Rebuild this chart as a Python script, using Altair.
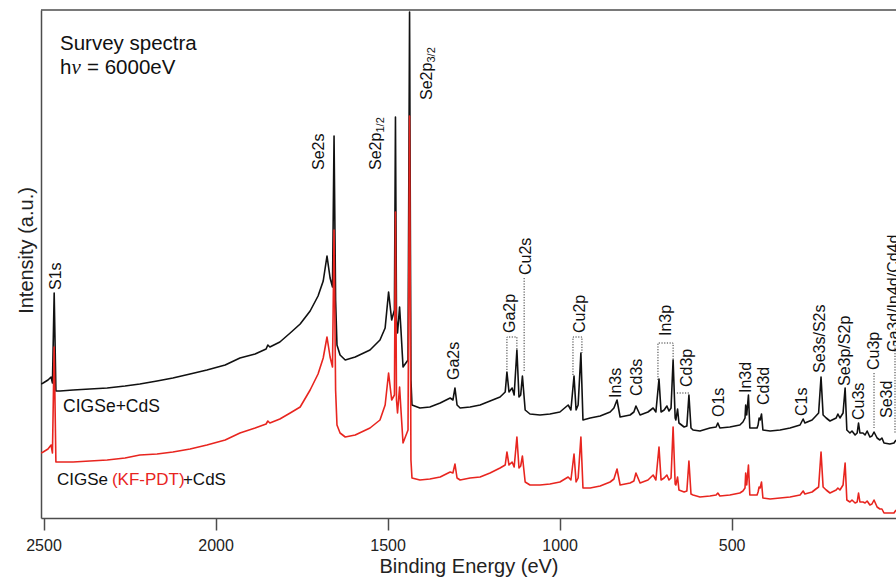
import altair as alt
import pandas as pd

# Binding energy (eV) sample points and intensities (a.u.)
be = [2507, 2501, 2487, 2478, 2474, 2469, 2464, 2452, 2414, 2365,
      2315, 2263, 2220, 2170, 2124, 2074, 2025, 1972, 1929, 1885,
      1853, 1848, 1842, 1813, 1783, 1754, 1725, 1702, 1687, 1676,
      1667, 1660, 1655.5, 1651, 1647, 1638, 1623, 1594, 1551, 1522,
      1507, 1497, 1488, 1480, 1477, 1474, 1471, 1465, 1461, 1455,
      1440.5, 1436, 1432, 1429, 1406, 1377, 1347, 1318, 1310, 1304,
      1298, 1289, 1260, 1231, 1202, 1173, 1158, 1153, 1147, 1138,
      1132, 1124, 1118, 1113, 1108, 1100, 1086, 1057, 1028, 999,
      975, 967, 958, 952, 946, 938, 932, 911, 882, 853,
      842, 833, 824, 795, 784, 778, 766, 743, 728, 720,
      711, 705, 696, 688, 682, 676, 670, 664, 662, 657,
      653, 638, 630, 624, 618, 612, 592, 563, 545, 540,
      534, 505, 476, 467, 461, 459, 456, 451, 447, 426,
      423, 420, 417, 413, 409, 388, 359, 330, 301, 292,
      287, 266, 255, 247, 240, 234, 225, 214, 196, 191,
      185, 176, 170, 165, 156, 150, 141, 135, 131, 127,
      118, 112, 106, 98, 92, 86, 77, 69, 63, 57,
      40, 28, 22]

cigse_cds = [134, 135, 138, 141, 135, 225, 127, 127, 128, 129,
             130, 132, 134, 137, 140, 144, 148, 153, 160, 164,
             169, 173, 171, 176, 185, 194, 207, 222, 237, 262,
             240, 231, 382, 218, 173, 163, 158, 161, 168, 178,
             190, 226, 198, 208, 401, 198, 185, 211, 188, 151,
             158, 506, 138, 113, 110, 111, 115, 120, 118, 130,
             113, 110, 111, 113, 117, 121, 126, 146, 126, 130,
             123, 168, 121, 123, 142, 108, 104, 103, 104, 106,
             113, 108, 142, 108, 113, 165, 98, 100, 102, 106,
             110, 118, 101, 103, 106, 112, 103, 106, 110, 106,
             139, 106, 108, 112, 107, 110, 158, 100, 98, 109,
             95, 91, 92, 123, 90, 88, 87, 90, 91, 95,
             90, 91, 93, 96, 100, 113, 103, 123, 90, 90,
             93, 100, 98, 104, 88, 87, 88, 90, 93, 99,
             95, 98, 102, 105, 141, 103, 100, 97, 100, 104,
             100, 105, 130, 88, 85, 87, 83, 85, 95, 85,
             85, 83, 87, 81, 82, 86, 80, 78, 80, 75,
             74, 75, 78]

cigse_kf_cds = [65, 66, 69, 73, 65, 171, 56, 56, 56, 57,
                58, 60, 63, 64, 66, 69, 73, 78, 85, 90,
                94, 97, 95, 99, 105, 111, 128, 144, 160, 181,
                161, 151, 288, 128, 93, 85, 81, 83, 90, 98,
                113, 145, 118, 123, 306, 118, 105, 131, 108, 75,
                88, 402, 58, 40, 38, 39, 41, 46, 45, 54,
                40, 38, 40, 41, 45, 50, 53, 66, 53, 56,
                51, 81, 50, 52, 62, 36, 33, 33, 34, 36,
                41, 38, 64, 36, 40, 81, 30, 30, 32, 36,
                39, 49, 33, 35, 37, 45, 35, 38, 43, 38,
                71, 38, 40, 43, 38, 40, 91, 34, 33, 41,
                28, 26, 27, 57, 24, 23, 21, 22, 23, 25,
                22, 23, 25, 27, 30, 45, 33, 53, 23, 23,
                26, 31, 30, 36, 20, 19, 20, 21, 23, 27,
                24, 26, 29, 31, 66, 31, 28, 25, 28, 30,
                28, 33, 55, 18, 16, 18, 15, 16, 25, 16,
                16, 15, 17, 13, 14, 18, 11, 9, 9, 5,
                5, 5, 8]

assert len(be) == len(cigse_cds) == len(cigse_kf_cds)

# peak labels (vertical text): label, binding energy, intensity of text start
peak_labels = ["S1s", "Se2s", "Se2p", "Se2p", "Ga2s", "Ga2p", "Cu2s", "Cu2p",
               "In3s", "Cd3s", "In3p", "Cd3p", "O1s", "In3d", "Cd3d", "C1s",
               "Se3s/S2s", "Se3p/S2p", "Cu3s", "Cu3p", "Se3d", "Ga3d/In4d/Cd4d"]
peak_label_be = [2465, 1700, 1533, 1385, 1308, 1144, 1097, 940,
                 835, 775, 690, 629, 536, 458, 407, 294,
                 243, 170, 129, 86, 47, 28]
peak_label_i = [228, 348, 348, 418, 138, 185, 243, 185,
                120, 122, 182, 131, 101, 125, 113, 102,
                145, 132, 98, 148, 100, 166]

sub_labels = ["1/2", "3/2"]
sub_be = [1533, 1385]
sub_i = [348, 418]

# dotted guide lines (group, order, be, intensity)
guide_group = [1, 1, 1, 1, 2, 2, 3, 3, 3, 3, 4, 4, 4, 4, 5, 5, 6, 6, 7, 7]
guide_order = [0, 1, 2, 3, 0, 1, 0, 1, 2, 3, 0, 1, 2, 3, 0, 1, 0, 1, 0, 1]
guide_be = [1153, 1153, 1124, 1124, 1103, 1103, 961, 961, 935, 935,
            714, 714, 670, 670, 659, 621, 86, 86, 25, 25]
guide_i = [148, 181, 181, 168, 240, 146, 143, 181, 181, 165,
           138, 175, 175, 158, 125, 125, 145, 90, 173, 85]

BLACK = "#111111"
RED = "#e8251f"
FRAME = "#4d4d4d"
FONT = "Liberation Sans"

xscale = alt.Scale(domain=[22.1, 2507.3], reverse=True, nice=False, zero=False)
yscale = alt.Scale(domain=[0, 508], nice=False, zero=False)
xaxis = alt.Axis(title="Binding Energy (eV)", values=[2500, 2000, 1500, 1000, 500],
                 format="d", grid=False, tickSize=12, tickWidth=1.5, tickColor=FRAME,
                 domainColor=FRAME, domainWidth=1.5, labelFontSize=16, labelColor="#222",
                 labelFont=FONT, labelPadding=7, labelFlush=False, titleFont=FONT,
                 titleFontSize=20, titleFontWeight="normal", titleColor="#222",
                 titlePadding=3)
yaxis = alt.Axis(title="Intensity (a.u.)", labels=False, ticks=False, grid=False,
                 domainColor=FRAME, domainWidth=1.5, titleFont=FONT, titleFontSize=20,
                 titleFontWeight="normal", titleColor="#222", titlePadding=5,
                 titleY=240)


def X():
    return alt.X("be:Q", scale=xscale, axis=xaxis)


def Y():
    return alt.Y("i:Q", scale=yscale, axis=yaxis)


df_black = pd.DataFrame({"be": be, "i": cigse_cds})
df_red = pd.DataFrame({"be": be, "i": cigse_kf_cds})

line_black = alt.Chart(df_black).mark_line(
    color=BLACK, strokeWidth=1.6, clip=True, strokeJoin="round").encode(x=X(), y=Y())
line_red = alt.Chart(df_red).mark_line(
    color=RED, strokeWidth=1.6, clip=True, strokeJoin="round").encode(x=X(), y=Y())

top_rule = alt.Chart(pd.DataFrame({"i": [508]})).mark_rule(
    color=FRAME, strokeWidth=1.5).encode(y=Y())

df_guides = pd.DataFrame({"g": guide_group, "o": guide_order, "be": guide_be, "i": guide_i})
guides = alt.Chart(df_guides).mark_line(
    color="#333333", strokeWidth=1, strokeDash=[1.2, 1.5], clip=True).encode(
    x=X(), y=Y(), detail="g:N", order="o:Q")

df_labels = pd.DataFrame({"be": peak_label_be, "i": peak_label_i, "t": peak_labels})
labels = alt.Chart(df_labels).mark_text(
    angle=270, align="left", baseline="middle", fontSize=16, font=FONT,
    color=BLACK, clip=True).encode(x=X(), y=Y(), text="t:N")

df_subs = pd.DataFrame({"be": sub_be, "i": sub_i, "t": sub_labels})
subs = alt.Chart(df_subs).mark_text(
    angle=270, align="left", baseline="middle", fontSize=11, font=FONT,
    color=BLACK, dx=37.5, dy=4.5, clip=True).encode(x=X(), y=Y(), text="t:N")


def note(txt, be_v, i_v, size, color=BLACK, dx=0, font=FONT, style="normal"):
    d = pd.DataFrame({"be": [be_v], "i": [i_v], "t": [txt]})
    return alt.Chart(d).mark_text(
        align="left", baseline="alphabetic", fontSize=size, font=font,
        fontStyle=style, color=color, dx=dx).encode(x=X(), y=Y(), text="t:N")


notes = [
    note("Survey spectra", 2452, 468, 20.5),
    note("h", 2452, 444, 20.5),
    note("ν", 2452, 444, 21, dx=11.5, font="Liberation Serif", style="italic"),
    note("= 6000eV", 2452, 444, 20.5, dx=27),
    note("CIGSe+CdS", 2443, 106, 17.5),
    note("CIGSe ", 2461, 33, 17),
    note("(KF-PDT)", 2461, 33, 17, color=RED, dx=55),
    note("+CdS", 2461, 33, 17, dx=126),
]

chart = alt.layer(line_black, line_red, top_rule, guides, labels, subs, *notes).properties(
    width=855, height=508,
    padding={"left": 41, "top": 10, "right": 0, "bottom": 61},
    autosize=alt.AutoSizeParams(type="none"),
    background="white",
).configure_view(strokeWidth=0)

chart.save("out.html", embed_options={"renderer": "svg", "actions": False})
